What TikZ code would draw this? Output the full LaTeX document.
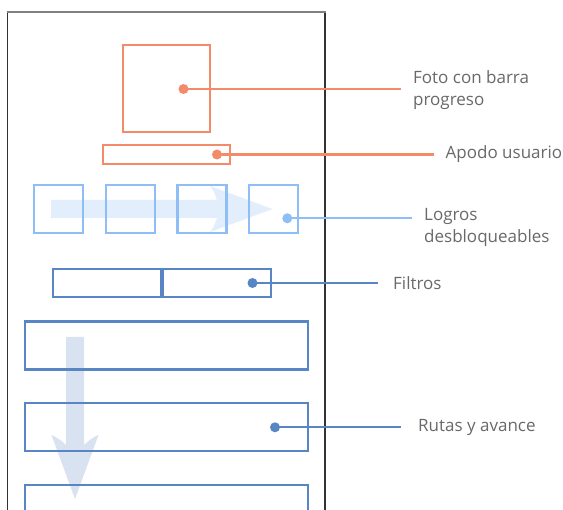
\documentclass[tikz,border=0pt]{standalone}
\usepackage{fontspec}
\setmainfont{Open Sans}
\definecolor{orng}{RGB}{243,139,106}
\definecolor{lblue}{RGB}{143,190,247}
\definecolor{mblue}{RGB}{88,134,196}
\definecolor{arrHfill}{RGB}{226,238,252}
\definecolor{arrDfill}{RGB}{216,226,240}
\definecolor{txt}{RGB}{105,105,105}
\definecolor{frametop}{RGB}{128,128,128}
\definecolor{frameside}{RGB}{50,50,50}
\begin{document}
\begin{tikzpicture}[x=1pt,y=-1pt,
  ubox/.style={draw, line width=2.4pt, inner sep=0pt, outer sep=0pt, rectangle},
  dotn/.style={circle, fill, inner sep=0pt, minimum size=10pt},
  conn/.style={line width=2.4pt},
  lbl/.style={anchor=west, inner sep=0pt, align=left, text=txt, font=\fontsize{17}{22}\selectfont}]
\clip (0,0) rectangle (563,510);
\fill[white] (0,0) rectangle (563,510);
% phone frame
\draw[frameside, line width=1.5pt] (7.5,515) -- (7.5,12);
\draw[frameside, line width=1.5pt] (325,515) -- (325,12);
\draw[frametop, line width=2pt] (6.75,12) -- (325.75,12);
% background arrows
\fill[arrHfill] (51,200) -- (217,200) .. controls (215,194) and (213,189) .. (210,186) -- (272.5,209) -- (210,232) .. controls (213,229) and (215,224) .. (217,218) -- (51,218) -- cycle;
\fill[arrDfill] (66,337) -- (66,445) .. controls (61,440) and (56,437) .. (51.5,435) -- (75,499) -- (98.5,435) .. controls (94,437) and (89,440) .. (84,445) -- (84,337) -- cycle;
% profile
\node[ubox, draw=orng, minimum width=87pt, minimum height=87pt] (foto) at (166.5,88.5) {};
\node[ubox, draw=orng, minimum width=127pt, minimum height=19pt] (apodo) at (166.5,154.5) {};
% achievements
\foreach \i/\x in {1/58.5,2/130.3,3/202,4/273.7}
  \node[ubox, draw=lblue, minimum width=49pt, minimum height=48pt] (logro\i) at (\x,209) {};
% filters
\node[ubox, draw=mblue, minimum width=108pt, minimum height=28pt] (filtroA) at (107,283) {};
\node[ubox, draw=mblue, minimum width=108pt, minimum height=28pt] (filtroB) at (217,283) {};
% routes
\foreach \i/\y in {1/345.7,2/427.3,3/509.3}
  \node[ubox, draw=mblue, minimum width=283pt, minimum height=48pt] (ruta\i) at (166.5,\y) {};
% dots
\node[dotn, fill=orng] (d1) at (183.5,89) {};
\node[dotn, fill=orng] (d2) at (217,154.5) {};
\node[dotn, fill=lblue] (d3) at (287.3,218.3) {};
\node[dotn, fill=mblue] (d4) at (252.5,283) {};
\node[dotn, fill=mblue] (d5) at (275,427.3) {};
% labels
\node[lbl] (l1) at (413,90) {Foto con barra\\progreso};
\node[lbl] (l2) at (445.5,154.5) {Apodo usuario};
\node[lbl] (l3) at (424,227) {Logros\\desbloqueables};
\node[lbl] (l4) at (393,283) {Filtros};
\node[lbl] (l5) at (418,427.3) {Rutas y avance};
% connector ends
\coordinate (e1) at (400.5,89);
\coordinate (e2) at (434,154.5);
\coordinate (e3) at (412,218.3);
\coordinate (e4) at (377.7,283);
\coordinate (e5) at (400.7,427.3);
\draw[conn, orng] (d1.center) -- (e1);
\draw[conn, orng] (d2.center) -- (e2);
\draw[conn, lblue] (d3.center) -- (e3);
\draw[conn, mblue] (d4.center) -- (e4);
\draw[conn, mblue] (d5.center) -- (e5);
\end{tikzpicture}
\end{document}
